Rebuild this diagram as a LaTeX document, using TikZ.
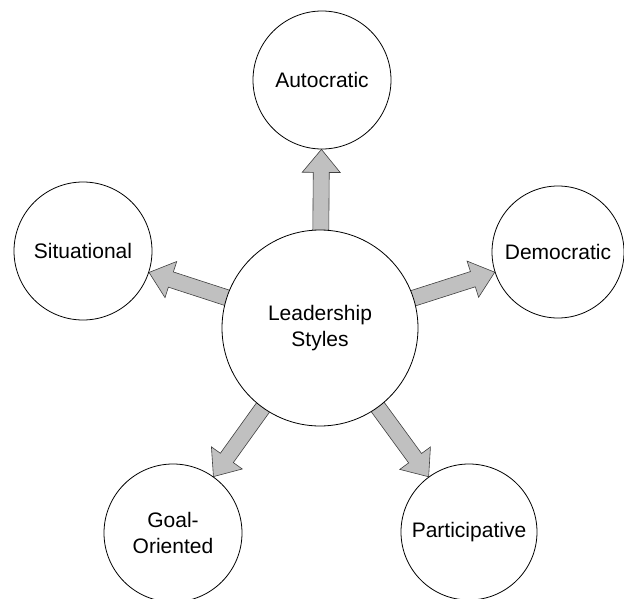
\documentclass[tikz,border=0pt]{standalone}
\usepackage{fontspec}
\setmainfont{Liberation Sans}
\usetikzlibrary{calc,backgrounds}
\definecolor{arrowgray}{HTML}{C0C0C0}
\tikzset{
  bubble/.style={circle, draw=black, line width=0.8pt, fill=white, inner sep=0pt,
    font=\fontsize{21}{26.5}\selectfont, align=center},
  fatarrow/.style={fill=arrowgray, draw=black!75, line width=0.6pt, line join=miter}
}
\newcommand\fatarr[2]{%
  \path (#1) -- (#2) coordinate[pos=1] (#2tip);
  \coordinate (#2st) at ($(#1.center)!94pt!(#2.center)$);
  \coordinate (#2hb) at ($(#2tip)!23pt!(#2st)$);
  \draw[fatarrow] ($(#2st)!8pt!90:(#2tip)$) -- ($(#2hb)!8pt!90:(#2tip)$)
    -- ($(#2hb)!19pt!90:(#2tip)$) -- (#2tip) -- ($(#2hb)!19pt!-90:(#2tip)$)
    -- ($(#2hb)!8pt!-90:(#2tip)$) -- ($(#2st)!8pt!-90:(#2tip)$) -- cycle;
}
\begin{document}
\begin{tikzpicture}[x=1pt,y=1pt]
\useasboundingbox (0,0) rectangle (624,-599);
\node[bubble, minimum size=196pt] (lead) at (320,-328) {Leadership\\Styles};
\node[bubble, minimum size=138pt] (auto) at (322,-80) {Autocratic};
\node[bubble, minimum size=132pt] (demo) at (558,-252) {Democratic};
\node[bubble, minimum size=138pt] (situ) at (83,-251) {Situational};
\node[bubble, minimum size=138pt] (goal) at (173,-533) {Goal-\\Oriented};
\node[bubble, minimum size=136pt] (part) at (469,-532) {Participative};
\begin{pgfonlayer}{background}
  \fatarr{lead}{auto}
  \fatarr{lead}{demo}
  \fatarr{lead}{situ}
  \fatarr{lead}{goal}
  \fatarr{lead}{part}
\end{pgfonlayer}
\end{tikzpicture}
\end{document}
